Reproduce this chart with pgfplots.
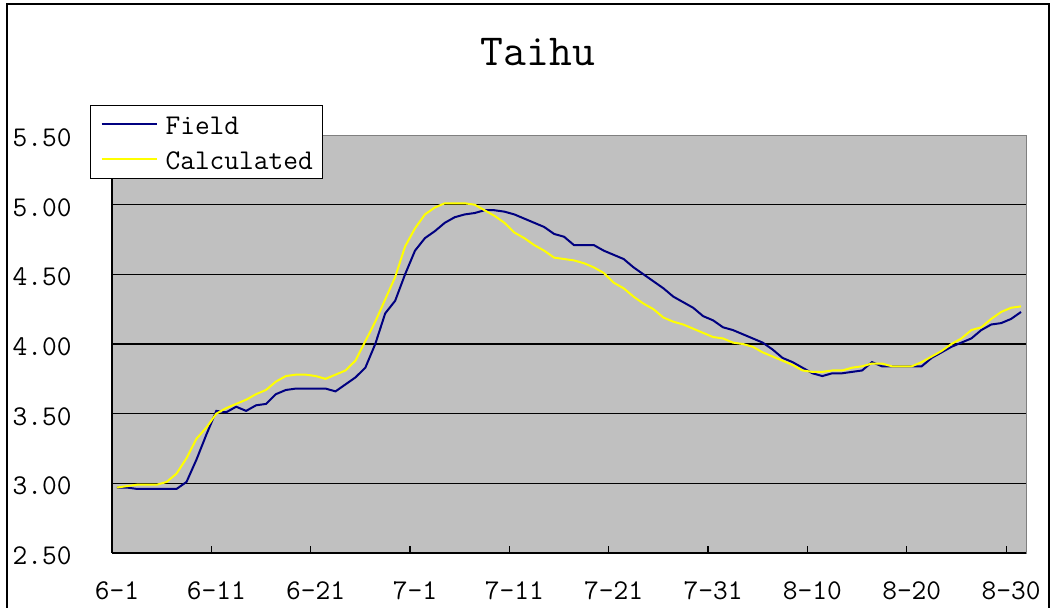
\documentclass[border=0pt]{standalone}
\usepackage{fontspec}
\usepackage{pgfplots}
\usepackage{pgfplotstable}
\pgfplotsset{compat=1.18}

\definecolor{plotgrey}{HTML}{C0C0C0}
\definecolor{fieldblue}{HTML}{000080}
\definecolor{calcyellow}{HTML}{FFFF00}

\newcommand{\chartfont}{\ttfamily\fontsize{14.3}{17}\selectfont}

% day index (0 = 6-1), Field, Calculated
\pgfplotstableread{
d F C
0 2.97 2.97
1 2.97 2.98
2 2.96 2.99
3 2.96 2.99
4 2.96 2.99
5 2.96 3.01
6 2.96 3.07
7 3.01 3.18
8 3.17 3.32
9 3.35 3.40
10 3.52 3.50
11 3.51 3.54
12 3.55 3.57
13 3.52 3.60
14 3.56 3.64
15 3.57 3.67
16 3.64 3.73
17 3.67 3.77
18 3.68 3.78
19 3.68 3.78
20 3.68 3.77
21 3.68 3.75
22 3.66 3.78
23 3.71 3.81
24 3.76 3.88
25 3.83 4.02
26 4.00 4.16
27 4.22 4.32
28 4.31 4.48
29 4.50 4.70
30 4.67 4.83
31 4.76 4.93
32 4.81 4.98
33 4.87 5.01
34 4.91 5.01
35 4.93 5.01
36 4.94 5.00
37 4.96 4.96
38 4.96 4.92
39 4.95 4.87
40 4.93 4.80
41 4.90 4.76
42 4.87 4.71
43 4.84 4.67
44 4.79 4.62
45 4.77 4.61
46 4.71 4.60
47 4.71 4.58
48 4.71 4.55
49 4.67 4.51
50 4.64 4.44
51 4.61 4.40
52 4.55 4.34
53 4.50 4.29
54 4.45 4.25
55 4.40 4.19
56 4.34 4.16
57 4.30 4.14
58 4.26 4.11
59 4.20 4.08
60 4.17 4.05
61 4.12 4.04
62 4.10 4.01
63 4.07 4.00
64 4.04 3.98
65 4.01 3.94
66 3.96 3.91
67 3.90 3.88
68 3.87 3.85
69 3.83 3.81
70 3.79 3.80
71 3.77 3.80
72 3.79 3.81
73 3.79 3.81
74 3.80 3.83
75 3.81 3.84
76 3.87 3.86
77 3.84 3.86
78 3.84 3.84
79 3.84 3.84
80 3.84 3.84
81 3.84 3.87
82 3.90 3.91
83 3.94 3.95
84 3.98 4.00
85 4.01 4.04
86 4.04 4.10
87 4.10 4.12
88 4.14 4.18
89 4.15 4.23
90 4.18 4.26
91 4.23 4.27
}\taihu

\begin{document}
\begin{tikzpicture}
\useasboundingbox (0,0) rectangle (528pt,303.5pt);
% chart frame
\draw[line width=0.8pt] (3.5pt,-5pt) -- (3.5pt,301.5pt) -- (524.5pt,301.5pt) -- (524.5pt,-5pt);
\begin{axis}[
    at={(56pt,27pt)}, anchor=south west,
    width=457pt, height=209pt, scale only axis,
    xmin=-0.5, xmax=91.5,
    ymin=2.5, ymax=5.5,
    axis background/.style={fill=plotgrey, draw=gray},
    axis x line*=bottom, axis y line*=left,
    axis line style={black, line width=0.8pt},
    tick align=inside,
    major tick length=0pt,
    xtick={0,10,...,90},
    xticklabels={6-1,6-11,6-21,7-1,7-11,7-21,7-31,8-10,8-20,8-30},
    extra x ticks={9.5,19.5,...,89.5},
    extra x tick labels={},
    extra x tick style={major tick length=3.5pt, tick style={black, line width=0.6pt}},
    ytick={2.5,3,...,5},
    extra y ticks={5.5},
    extra y tick style={grid=none},
    ymajorgrids=true,
    grid style={black, line width=0.6pt},
    /pgf/number format/.cd, fixed, fixed zerofill, precision=2, assume math mode=true,
    /pgfplots/.cd,
    ticklabel style={font=\chartfont, inner sep=0pt},
    yticklabel style={anchor=base east, xshift=-20pt, yshift=-5.8pt},
    xticklabel style={anchor=base, yshift=-23.2pt},
    legend cell align=left,
    legend image code/.code={\draw[#1] (0pt,0pt) -- (27.5pt,0pt);},
    legend style={at={(-0.024,1.072)}, anchor=north west,
        draw=black, line width=0.5pt, fill=white,
        inner xsep=5pt, inner ysep=2pt,
        row sep=2.5pt, column sep=4pt,
        font=\chartfont,
        nodes={inner sep=0pt, text height=12.5pt, text depth=2.5pt}},
]
\addplot[fieldblue, line width=1pt] table[x=d, y=F] {\taihu};
\addlegendentry{Field}
\addplot[calcyellow, line width=1pt] table[x=d, y=C] {\taihu};
\addlegendentry{Calculated}
\end{axis}
\node[anchor=base, font=\ttfamily\fontsize{22.2}{26}\selectfont, inner sep=0pt] at (269pt,271pt) {Taihu};
\end{tikzpicture}
\end{document}
